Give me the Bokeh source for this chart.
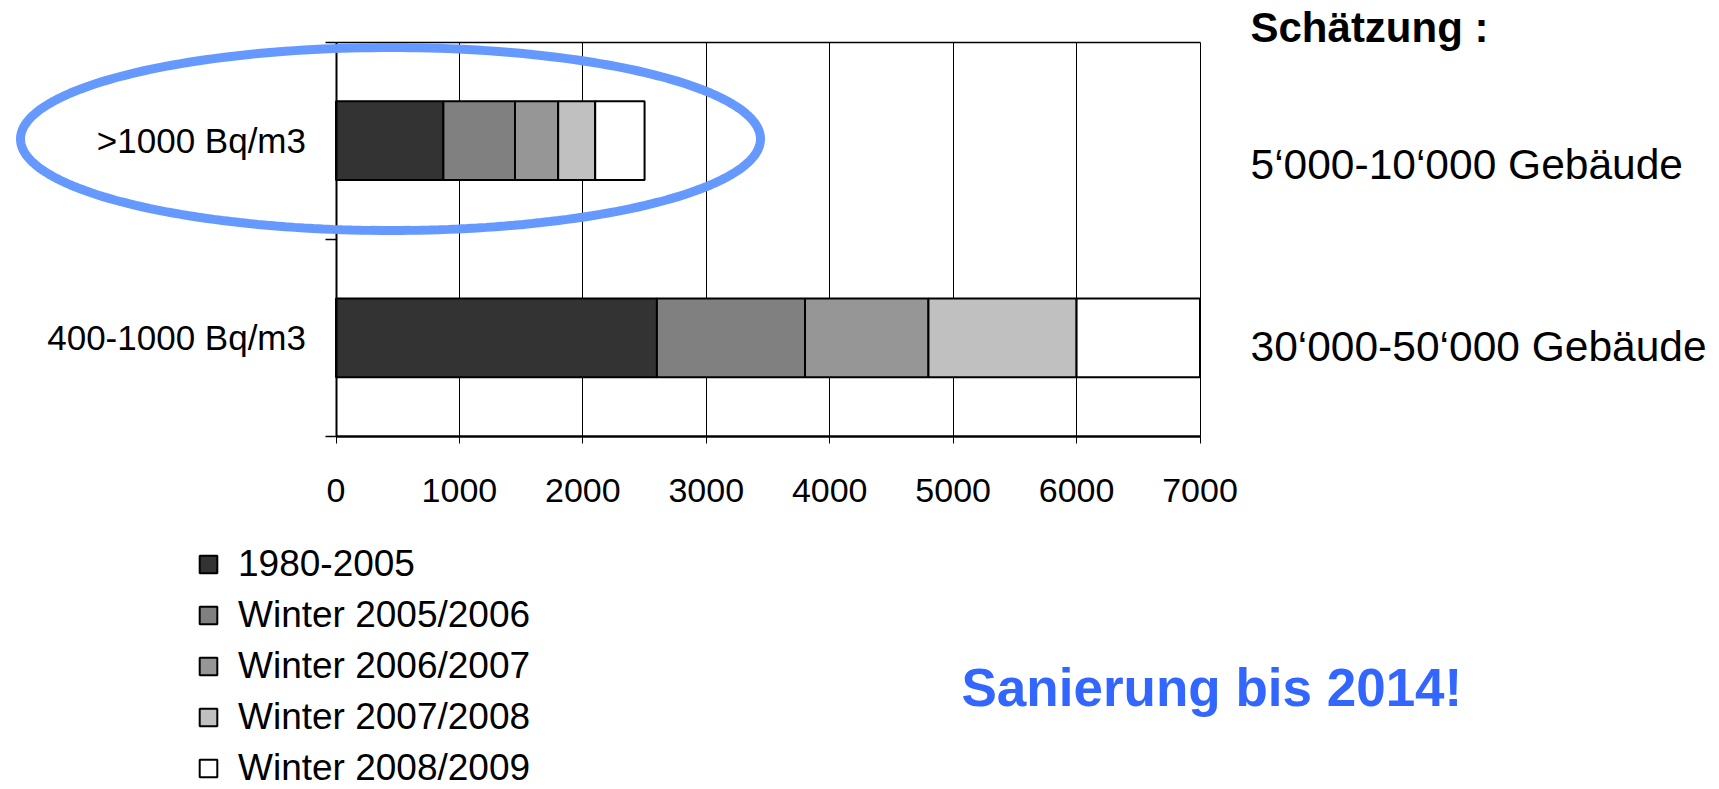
import numpy as np
from bokeh.plotting import figure
from bokeh.models import (ColumnDataSource, Range1d, FixedTicker, Legend, LegendItem,
                          Label, PolyAnnotation)
from bokeh.embed import file_html
from bokeh.resources import INLINE

# ---------------- data ----------------
categories = [">1000 Bq/m3", "400-1000 Bq/m3"]          # top to bottom
series = ["1980-2005", "Winter 2005/2006", "Winter 2006/2007",
          "Winter 2007/2008", "Winter 2008/2009"]
v_1980_2005 = [870, 2600]
v_2005_2006 = [580, 1200]
v_2006_2007 = [350, 1000]
v_2007_2008 = [300, 1200]
v_2008_2009 = [400, 1000]
x_ticks = [0, 1000, 2000, 3000, 4000, 5000, 6000, 7000]
estimates = ["5\u2018000-10\u2018000 Geb\u00e4ude", "30\u2018000-50\u2018000 Geb\u00e4ude"]
header = "Sch\u00e4tzung :"
note = "Sanierung bis 2014!"

colors = ["#333333", "#808080", "#969696", "#c0c0c0", "#ffffff"]
FONT = "Liberation Sans"

# ---------------- geometry (canvas px) ----------------
W, H = 1719, 789
XL, XR, YT, YB = 335.5, 1199.5, 41.5, 436.0   # plot box edges
XMAX = x_ticks[-1]
NCAT = len(categories)
kx = XMAX / (XR - XL)
ky = NCAT / (YB - YT)

def px2x(px):
    return (px - XL) * kx

def px2y(py):
    return (YB - py) * ky

pos = [NCAT - i - 0.5 for i in range(NCAT)]
src = ColumnDataSource(dict(y=pos, cat=categories,
                            **{series[0]: v_1980_2005, series[1]: v_2005_2006,
                               series[2]: v_2006_2007, series[3]: v_2007_2008,
                               series[4]: v_2008_2009}))

p = figure(width=W, height=H, output_backend="svg", toolbar_location=None,
           x_range=Range1d(px2x(0), px2x(W)), y_range=Range1d(px2y(H), px2y(0)),
           min_border=0)
p.outline_line_color = None
p.background_fill_color = "white"
p.border_fill_color = "white"

renderers = p.hbar_stack(series, y="y", height=0.4, color=colors, source=src,
                         line_color="black", line_width=2)

# grid: vertical lines only within the plot box, plus top border line
p.xgrid.ticker = FixedTicker(ticks=x_ticks)
p.xgrid.grid_line_color = "black"
p.xgrid.grid_line_width = 1
p.xgrid.cross_bounds = (0, NCAT)
p.xgrid.level = "underlay"
p.ygrid.ticker = FixedTicker(ticks=[NCAT])
p.ygrid.grid_line_color = "black"
p.ygrid.grid_line_width = 1.5
p.ygrid.cross_bounds = (0, XMAX)

# x axis (drawn at y=0 inside the canvas)
xa = p.xaxis[0]
xa.fixed_location = 0
xa.bounds = (0, XMAX)
xa.ticker = FixedTicker(ticks=x_ticks)
xa.axis_line_width = 2.5
xa.axis_line_color = "black"
xa.major_tick_out = 7
xa.major_tick_in = 0
xa.major_tick_line_color = "black"
xa.minor_tick_line_color = None
xa.major_label_text_font = FONT
xa.major_label_text_font_size = "34px"
xa.major_label_text_color = "black"
xa.major_label_standoff = 35

# y axis (drawn at x=0)
ya = p.yaxis[0]
ya.fixed_location = 0
ya.bounds = (0, NCAT)
ya.ticker = FixedTicker(ticks=pos, minor_ticks=[float(i) for i in range(NCAT + 1)])
ya.major_label_overrides = {float(pos[i]): categories[i] for i in range(NCAT)}
ya.axis_line_width = 2
ya.axis_line_color = "black"
ya.major_tick_out = 0
ya.major_tick_in = 0
ya.minor_tick_out = 11
ya.minor_tick_in = 0
ya.minor_tick_line_color = "black"
ya.minor_tick_line_width = 1.5
ya.major_label_text_font = FONT
ya.major_label_text_font_size = "35px"
ya.major_label_text_color = "black"
ya.major_label_standoff = 19

# legend
items = [LegendItem(label=s, renderers=[r]) for s, r in zip(series, renderers)]
legend = Legend(items=items, location=(197, 0),
                orientation="vertical", padding=0, margin=0,
                glyph_width=22, glyph_height=22, label_height=43,
                spacing=8, label_standoff=19,
                label_text_font=FONT, label_text_font_size="37px",
                label_text_color="black",
                border_line_color=None, background_fill_alpha=0)
p.add_layout(legend, "center")

# ellipse highlight around the >1000 category
cx, cy, ra, rb = 390, 138.5, 370, 91.5
t = np.linspace(0, 2 * np.pi, 241)
ell_x = [px2x(cx + ra * np.cos(a)) for a in t]
ell_y = [px2y(cy + rb * np.sin(a)) for a in t]
p.add_layout(PolyAnnotation(xs=ell_x, ys=ell_y, fill_alpha=0,
                            line_color="#6699ff", line_alpha=1.0, line_width=9))

# right-side texts
p.add_layout(Label(x=px2x(1250), y=px2y(27), text=header, text_font=FONT,
                   text_font_size="42px", text_font_style="bold",
                   text_baseline="middle", text_align="left", text_color="black"))
est_y = [164, 346]
for txt, yy in zip(estimates, est_y):
    p.add_layout(Label(x=px2x(1250), y=px2y(yy), text=txt, text_font=FONT,
                       text_font_size="42.5px", text_baseline="middle",
                       text_align="left", text_color="black"))
p.add_layout(Label(x=px2x(961), y=px2y(687), text=note, text_font=FONT,
                   text_font_size="53px", text_font_style="bold",
                   text_baseline="middle", text_align="left", text_color="#3366ff"))

open("out.html", "w").write(file_html(p, INLINE))
